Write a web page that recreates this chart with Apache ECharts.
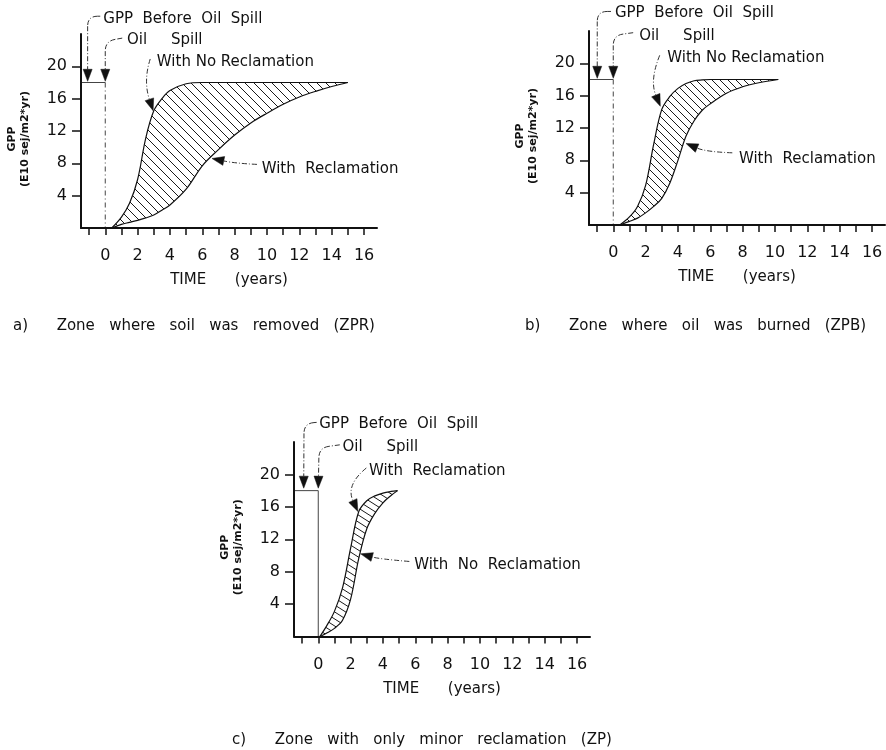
<!DOCTYPE html>
<html><head><meta charset="utf-8">
<script src="https://cdn.jsdelivr.net/npm/echarts@6/dist/echarts.min.js"></script>
<style>html,body{margin:0;padding:0;background:#fff}#c{width:886px;height:750px}</style>
</head><body><div id="c"></div>
<script>
// ---------------- data ----------------
const xTickValues = [-1,0,1,2,3,4,5,6,7,8,9,10,11,12,13,14,15,16];
const xLabelValues = [0,2,4,6,8,10,12,14,16];
const yTickValues = [4,8,12,16,20];
const gppBeforeSpill = 18;

// a) Zone where soil was removed (ZPR)
const aTime            = [0.4, 1, 1.5, 2, 2.5, 3, 3.5, 4, 5, 6, 7, 8, 9, 10, 11, 12, 13, 14, 15];
const aNoReclamation   = [0, 1.35, 3.05, 6.0, 11.1, 14.5, 16.0, 17.0, 17.85, 18, 18, 18, 18, 18, 18, 18, 18, 18, 18];
const aWithReclamation = [0, 0.45, 0.7, 0.95, 1.25, 1.6, 2.2, 2.85, 4.8, 7.7, 9.7, 11.5, 13.0, 14.2, 15.3, 16.2, 16.9, 17.5, 18.0];

// b) Zone where oil was burned (ZPB)
const bTime            = [0.4, 1, 1.5, 2, 2.5, 3, 3.5, 4, 4.5, 5, 5.5, 6, 7, 8, 9, 10.2];
const bNoReclamation   = [0, 1.0, 2.3, 4.9, 10.0, 14.3, 15.9, 16.9, 17.5, 17.85, 17.95, 18, 18, 18, 18, 18];
const bWithReclamation = [0, 0.45, 0.85, 1.5, 2.3, 3.3, 5.2, 8.0, 11.0, 12.9, 14.2, 15.0, 16.3, 17.1, 17.6, 18];

// c) Zone with only minor reclamation (ZP)
const cTime            = [0.1, 0.5, 1, 1.5, 2, 2.5, 3, 3.5, 4, 4.5, 4.9];
const cWithReclamation = [0, 1.25, 3.1, 6.0, 10.9, 15.4, 16.75, 17.35, 17.7, 17.9, 18];
const cNoReclamation   = [0, 0.4, 1.0, 2.0, 4.6, 9.6, 13.3, 15.2, 16.5, 17.4, 18];

// ---------------- annotations (anchored in data units) ----------------
const aNotes = [
  {text:'GPP  Before  Oil  Spill', at:[-0.12,25.86], from:[-0.31,26.2], bend:[-1.09,26.2], tip:[-1.09,18.15], r:10},
  {text:'Oil     Spill', at:[1.34,23.27], from:[1.05,23.49], bend:[0,23.12], tip:[0,18.15], r:10},
  {text:'With No Reclamation', at:[3.19,20.54], from:[2.78,20.91], bend:[2.35,18.2], tip:[2.96,14.51], r:100},
  {text:'With  Reclamation', at:[9.67,7.34], from:[9.38,7.87], bend:[8.02,8.0], tip:[6.6,8.6], r:100}
];
const bNotes = [
  {text:'GPP  Before  Oil  Spill', at:[0.1,26.17], from:[-0.14,26.42], bend:[-0.99,26.42], tip:[-0.99,18.15], r:10},
  {text:'Oil     Spill', at:[1.6,23.33], from:[1.23,23.79], bend:[0,23.46], tip:[0,18.15], r:10},
  {text:'With No Reclamation', at:[3.34,20.6], from:[2.87,20.99], bend:[2.25,17.9], tip:[2.91,14.69], r:100},
  {text:'With  Reclamation', at:[7.77,8.15], from:[7.36,8.93], bend:[5.73,9.05], tip:[4.5,10.09], r:100}
];
const cNotes = [
  {text:'GPP  Before  Oil  Spill', at:[0.06,26.26], from:[-0.1,26.42], bend:[-0.88,26.3], tip:[-0.9,18.3], r:10},
  {text:'Oil     Spill', at:[1.5,23.38], from:[1.33,23.65], bend:[0.05,23.3], tip:[0,18.3], r:10},
  {text:'With  Reclamation', at:[3.13,20.37], from:[2.97,20.79], bend:[1.7,18.7], tip:[2.45,15.43], r:100},
  {text:'With  No  Reclamation', at:[5.93,8.85], from:[5.63,9.26], bend:[3.79,9.56], tip:[2.62,10.2], r:100}
];

const captions = [
  'a)      Zone   where   soil   was   removed   (ZPR)',
  'b)      Zone   where   oil   was   burned   (ZPB)',
  'c)      Zone   with   only   minor   reclamation   (ZP)'
];

// ---------------- styling / layout ----------------
const FONT = 'DejaVu Sans';
const INK = '#111';
const X_MIN = -1.5, X_MAX = 16.8;

function hatch(w, h, lw) {
  const c = document.createElement('canvas');
  c.width = w; c.height = h;
  const g = c.getContext('2d');
  g.strokeStyle = '#1a1a1a'; g.lineWidth = lw;
  g.beginPath();
  for (let k = -1; k <= 1; k++) {
    g.moveTo(k * w - w, -h);
    g.lineTo(k * w + 2 * w, 2 * h);
  }
  g.stroke();
  return c;
}

const panels = [
  {time:aTime, upper:aNoReclamation, lower:aWithReclamation, notes:aNotes,
   grid:{left:81, top:34, width:296, height:194}, hatch:[9,9], boxDash:[5,3,1,3], caption:{left:13, top:319}},
  {time:bTime, upper:bNoReclamation, lower:bWithReclamation, notes:bNotes,
   grid:{left:589, top:31, width:296, height:194}, hatch:[8,8], boxDash:[5,3,1,3], caption:{left:525, top:319}},
  {time:cTime, upper:cWithReclamation, lower:cNoReclamation, notes:cNotes,
   grid:{left:294, top:442, width:296, height:194.5}, hatch:[11,7], boxDash:null, caption:{left:232, top:733}}
];

function noteRenderer(notes) {
  return function (params, api) {
    const n = notes[params.dataIndex];
    const S = api.coord(n.from), C = api.coord(n.bend), T = api.coord(n.tip), P = api.coord(n.at);
    const L = 12, W = 9;
    let dx = T[0] - C[0], dy = T[1] - C[1];
    const dl = Math.hypot(dx, dy) || 1; dx /= dl; dy /= dl;
    const E = [T[0] - dx * L, T[1] - dy * L];
    const nx = -dy, ny = dx;
    const dSC = Math.hypot(S[0] - C[0], S[1] - C[1]) || 1;
    const dEC = Math.hypot(E[0] - C[0], E[1] - C[1]) || 1;
    const r1 = Math.min(n.r, dSC), r2 = Math.min(n.r, dEC);
    const A = [C[0] + (S[0] - C[0]) / dSC * r1, C[1] + (S[1] - C[1]) / dSC * r1];
    const B = [C[0] + (E[0] - C[0]) / dEC * r2, C[1] + (E[1] - C[1]) / dEC * r2];
    const ls = {stroke:'#333', lineWidth:1, fill:'none', lineDash:[5,2,1,2]};
    return {
      type:'group',
      children:[
        {type:'polyline', shape:{points:[S, A]}, style:ls},
        {type:'bezierCurve', shape:{x1:A[0], y1:A[1], x2:B[0], y2:B[1], cpx1:C[0], cpy1:C[1]}, style:ls},
        {type:'polyline', shape:{points:[B, E]}, style:ls},
        {type:'polygon', shape:{points:[T, [E[0] + nx * W / 2, E[1] + ny * W / 2], [E[0] - nx * W / 2, E[1] - ny * W / 2]]},
         style:{fill:INK, stroke:INK, lineWidth:0.5}},
        {type:'text', x:P[0], y:P[1],
         style:{text:n.text, fill:INK, font:'15px "' + FONT + '"', align:'left', verticalAlign:'middle'}}
      ]
    };
  };
}

const grids = [], xAxes = [], yAxes = [], series = [], titles = [];
panels.forEach((p, i) => {
  grids.push(Object.assign({containLabel:false}, p.grid));
  xAxes.push({
    gridIndex:i, type:'value', min:X_MIN, max:X_MAX, z:6,
    axisLine:{onZero:false, lineStyle:{color:INK, width:2}},
    axisTick:{show:true, customValues:xTickValues, length:7, lineStyle:{color:INK, width:1.5}},
    axisLabel:{customValues:xLabelValues, margin:20, fontSize:16, color:INK, fontFamily:FONT},
    splitLine:{show:false},
    name:'TIME      (years)', nameLocation:'middle', nameGap:45,
    nameTextStyle:{fontSize:15, color:INK, fontFamily:FONT}
  });
  yAxes.push({
    gridIndex:i, type:'value', min:0, max:24, z:6,
    axisLine:{onZero:false, lineStyle:{color:INK, width:2}},
    axisTick:{show:true, customValues:yTickValues, length:9, lineStyle:{color:INK, width:1.5}},
    axisLabel:{customValues:yTickValues, margin:14, fontSize:16, color:INK, fontFamily:FONT},
    splitLine:{show:false},
    name:'GPP\n(E10 sej/m2*yr)', nameLocation:'middle', nameGap:49, nameRotate:90,
    nameTextStyle:{fontSize:11, fontWeight:'bold', lineHeight:13, color:INK, fontFamily:FONT, padding:[0,16,0,0]}
  });
  const ax = {xAxisIndex:i, yAxisIndex:i};
  const SM = 0.35;
  const last = p.time.length - 1;
  const upperPts = p.time.map((t, k) => [t, p.upper[k]]);
  const lowerPts = p.time.map((t, k) => [t, p.lower[k]]);
  // hatched area under the upper curve, then a white area under the lower curve:
  // what remains hatched is the band between the two curves
  series.push(Object.assign({
    type:'line', smooth:SM, symbol:'none', silent:true, z:1,
    lineStyle:{opacity:0},
    areaStyle:{color:{image:hatch(p.hatch[0], p.hatch[1], 1), repeat:'repeat'}, opacity:1, origin:'start'},
    data:upperPts
  }, ax));
  series.push(Object.assign({
    type:'line', smooth:SM, symbol:'none', silent:true, z:2,
    lineStyle:{opacity:0},
    areaStyle:{color:'#fff', opacity:1, origin:'start'},
    data:lowerPts
  }, ax));
  // white edge that hides the anti-aliased seam where both areas end
  series.push(Object.assign({
    type:'line', symbol:'none', silent:true, z:2,
    lineStyle:{color:'#fff', width:2.5},
    data:[[p.time[last], 0], [p.time[last], p.upper[last]]]
  }, ax));
  series.push(Object.assign({
    type:'line', smooth:SM, symbol:'none', silent:true, z:3,
    lineStyle:{color:INK, width:1.2},
    data:upperPts
  }, ax));
  series.push(Object.assign({
    type:'line', smooth:SM, symbol:'none', silent:true, z:3,
    lineStyle:{color:INK, width:1.2},
    data:lowerPts
  }, ax));
  // GPP before the spill: level line and the spill drop at time 0
  series.push(Object.assign({
    type:'line', symbol:'none', silent:true, z:3,
    lineStyle:{color:'#444', width:1},
    data:[[X_MIN, gppBeforeSpill], [0, gppBeforeSpill]]
  }, ax));
  series.push(Object.assign({
    type:'line', symbol:'none', silent:true, z:3,
    lineStyle:{color:'#444', width:1, type:p.boxDash || 'solid'},
    data:[[0, gppBeforeSpill], [0, 0]]
  }, ax));
  series.push(Object.assign({
    type:'custom', clip:false, silent:true, z:10,
    data:p.notes.map(n => n.tip),
    renderItem:noteRenderer(p.notes)
  }, ax));
  titles.push({
    text:captions[i], left:p.caption.left, top:p.caption.top, padding:0,
    textStyle:{fontSize:15, fontWeight:'normal', color:INK, fontFamily:FONT}
  });
});

const chart = echarts.init(document.getElementById('c'), null, {renderer:'canvas'});
chart.setOption({
  backgroundColor:'#fff',
  animation:false,
  textStyle:{fontFamily:FONT},
  title:titles,
  grid:grids,
  xAxis:xAxes,
  yAxis:yAxes,
  series:series
});
</script>
</body></html>
